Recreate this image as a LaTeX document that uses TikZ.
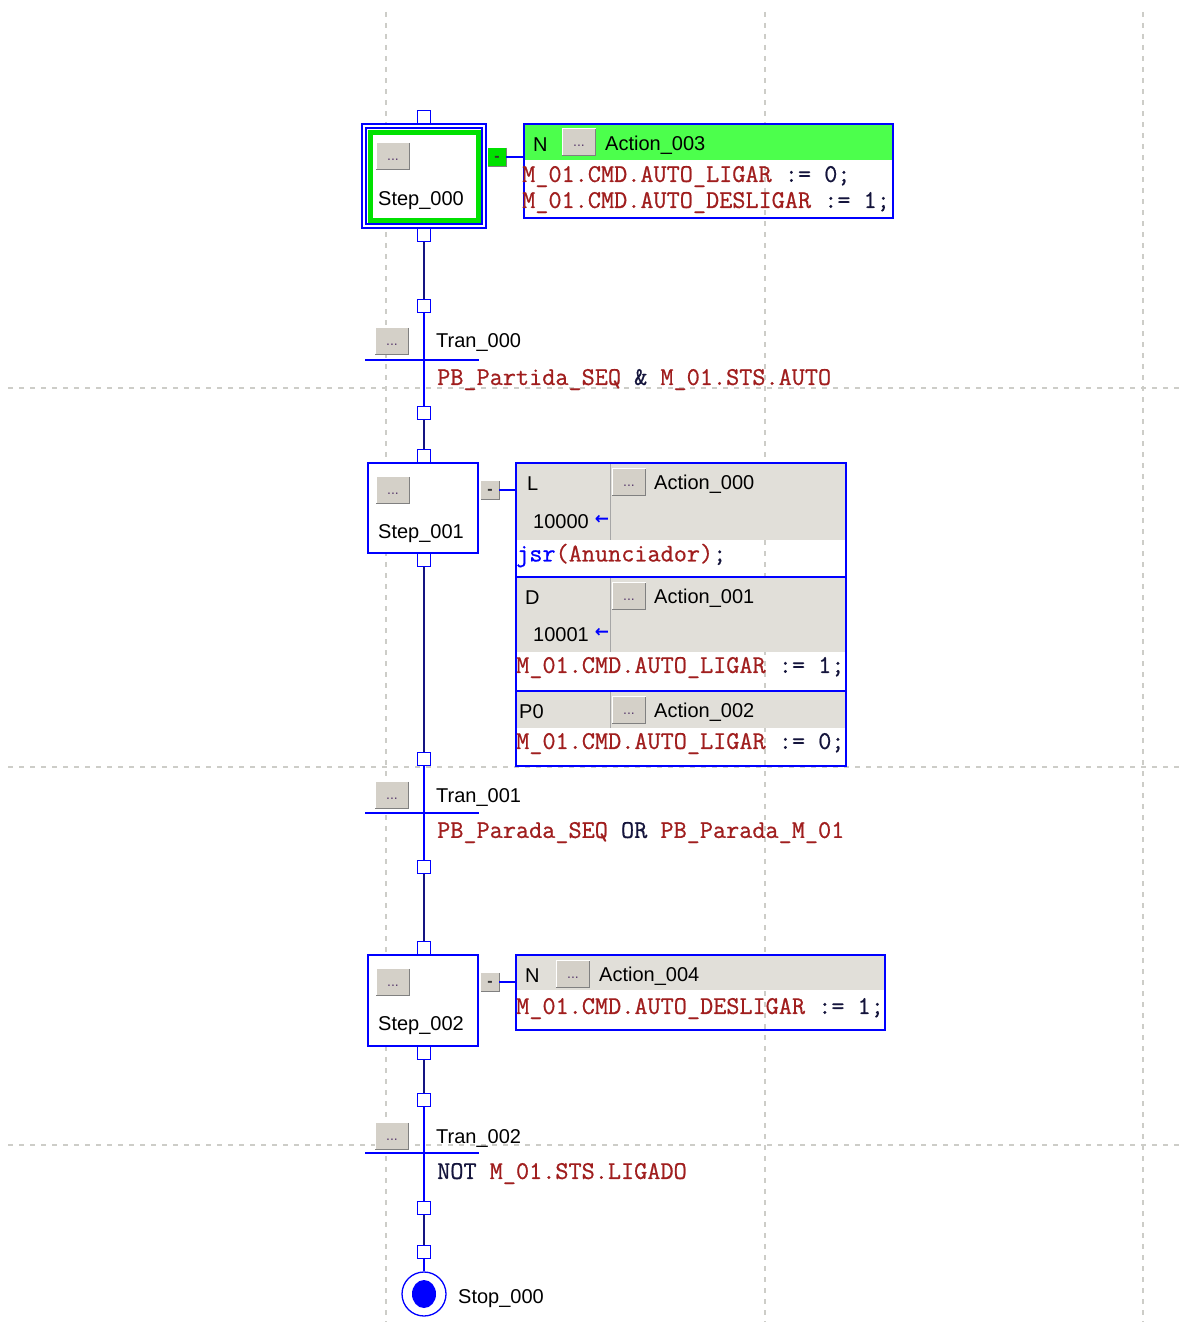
\documentclass[tikz,border=0pt]{standalone}
\usepackage{fontspec}
\setmainfont{Liberation Sans}
\newfontfamily\symfont{DejaVu Sans}
\newfontfamily\codefont[FakeBold=0.7]{Latin Modern Mono}
\usetikzlibrary{calc}
\definecolor{sfcblue}{RGB}{0,0,255}
\definecolor{wirenavy}{RGB}{20,20,130}
\definecolor{stepgreen}{RGB}{0,225,0}
\definecolor{hdrgreen}{RGB}{76,255,76}
\definecolor{panelgray}{RGB}{225,223,217}
\definecolor{btngray}{RGB}{212,208,200}
\definecolor{btndark}{RGB}{128,128,128}
\definecolor{codered}{RGB}{160,30,30}
\definecolor{codedark}{RGB}{20,20,60}
\definecolor{gridgray}{RGB}{205,205,200}
\definecolor{dotcol}{RGB}{90,60,110}
\newcommand{\rd}[1]{\textcolor{codered}{#1}}
\newcommand{\bevel}[1]{%
  \draw[white, line width=1.2pt] (#1.south west) -- (#1.north west) -- (#1.north east);
  \draw[btndark, line width=1.2pt] (#1.north east) -- (#1.south east) -- (#1.south west);}
\newcommand{\dotbtn}[2]{%
  \node[btn] (#1) at (#2) {...};\bevel{#1}}
\begin{document}
\begin{tikzpicture}[x=1pt,y=-1pt,
  gridline/.style={draw=gridgray, line width=1.2pt, dash pattern=on 5pt off 6pt},
  conn/.style={draw=sfcblue, fill=white, line width=1.4pt, minimum width=13pt, minimum height=13pt, inner sep=0pt},
  stepbox/.style={draw=sfcblue, fill=white, line width=1.5pt, minimum width=110pt, minimum height=90pt, inner sep=0pt},
  btn/.style={fill=btngray, minimum width=33pt, minimum height=26pt, inner sep=0pt, font=\fontsize{14}{14}\selectfont, text=dotcol, text depth=0pt, text height=9pt},
  minusbtn/.style={fill=btngray, minimum width=18pt, minimum height=18pt, inner sep=0pt, font=\fontsize{16}{16}\selectfont\bfseries, text=black!80, text depth=0pt, text height=9pt},
  lbl/.style={font=\fontsize{20}{22}\selectfont, inner sep=0pt, text=black, yshift=-2.5pt},
  code/.style={font=\fontsize{25.5}{26}\codefont, inner sep=0pt, text=codedark, anchor=west, yshift=-1.5pt},
  wire/.style={draw=wirenavy, line width=1.4pt},
  sfc/.style={draw=sfcblue, line width=1.5pt},
  actbox/.style={draw=sfcblue, line width=1.5pt, inner sep=0pt},
  arr/.style={font=\fontsize{17}{17}\symfont\bfseries, text=sfcblue, inner sep=0pt},
]
\useasboundingbox (0,0) rectangle (1185,1322);
\fill[white] (0,0) rectangle (1185,1322);
% grid
\foreach \gx in {386,765,1143} {\draw[gridline] (\gx,12) -- (\gx,1322);}
\foreach \gy in {388,767,1145} {\draw[gridline] (8,\gy) -- (1185,\gy);}

% ---------- Step_000 ----------
\node[draw=sfcblue, fill=white, line width=1.3pt, minimum width=124pt, minimum height=104pt, inner sep=0pt] (s0) at (424,176) {};
\draw[sfcblue, line width=1.2pt] (366,128) rectangle (482,224);
\draw[stepgreen, line width=5pt] (370,132) rectangle (478,220);
\node[conn] (s0t) at (424,117) {};
\node[conn] (s0b) at (424,235) {};
\dotbtn{s0btn}{393,156}
\node[lbl] (s0lbl) at (421,198) {Step\_000};
\node[minusbtn, fill=stepgreen] (s0m) at (497,157) {-};\bevel{s0m}
% Action_003
\fill[hdrgreen] (524,124) rectangle (893,160);
\node[actbox, minimum width=369pt, minimum height=94pt] (a3) at (708.5,171) {};
\draw[sfc] (s0m.east) -- (s0m -| a3.west);
\node[lbl, anchor=west] (a3q) at (533,142) {N};
\dotbtn{a3btn}{579,142}
\node[lbl, anchor=west] (a3lbl) at (605,143) {Action\_003};
\node[code] (a3c1) at (522,175) {\rd{M\_01.CMD.AUTO\_LIGAR} := 0;};
\node[code] (a3c2) at (522,201) {\rd{M\_01.CMD.AUTO\_DESLIGAR} := 1;};

% ---------- Tran_000 ----------
\node[conn] (t0a) at (424,306) {};
\node[conn] (t0b) at (424,413) {};
\draw[wire] (s0b) -- (t0a);
\draw[sfc] (t0a) -- (t0b);
\coordinate (t0l) at (365,360);
\coordinate (t0r) at (479,360);
\draw[sfc] (t0l) -- (t0r);
\dotbtn{t0btn}{392,341}
\node[lbl, anchor=west] (t0lbl) at (436,340) {Tran\_000};
\node[code] (t0c) at (437,378) {\rd{PB\_Partida\_SEQ} \& \rd{M\_01.STS.AUTO}};

% ---------- Step_001 ----------
\node[conn] (s1t) at (424,456) {};
\node[conn] (s1b) at (424,560) {};
\node[stepbox] (s1) at (423,508) {};
\draw[wire] (t0b) -- (s1t);
\dotbtn{s1btn}{393,490}
\node[lbl] (s1lbl) at (421,531) {Step\_001};
\node[minusbtn] (s1m) at (490,490) {-};\bevel{s1m}
% action block
\fill[panelgray] (516,463) rectangle (846,540);
\fill[panelgray] (516,577) rectangle (846,652);
\fill[panelgray] (516,691) rectangle (846,728);
\draw[gray!70, line width=1pt] (610,463) -- (610,540);
\draw[gray!70, line width=1pt] (610,577) -- (610,652);
\draw[gray!70, line width=1pt] (610,691) -- (610,728);
\node[actbox, minimum width=330pt, minimum height=303pt] (ab) at (681,614.5) {};
\draw[sfc] (516,577) -- (846,577);
\draw[sfc] (516,691) -- (846,691);
\draw[sfc] (s1m.east) -- (s1m -| ab.west);
% Action_000
\node[lbl, anchor=west] (a0q) at (527,481) {L};
\dotbtn{a0btn}{629,482}
\node[lbl, anchor=west] (a0lbl) at (654,482) {Action\_000};
\node[lbl, anchor=west] (a0t) at (533,519) {10000};
\node[arr] (a0arr) at (602,520) {←};
\node[code] (a0c) at (516,554) {\textcolor{sfcblue}{jsr}\rd{(Anunciador)};};
% Action_001
\node[lbl, anchor=west] (a1q) at (525,595) {D};
\dotbtn{a1btn}{629,596}
\node[lbl, anchor=west] (a1lbl) at (654,596) {Action\_001};
\node[lbl, anchor=west] (a1t) at (533,632) {10001};
\node[arr] (a1arr) at (602,633) {←};
\node[code] (a1c) at (516,666) {\rd{M\_01.CMD.AUTO\_LIGAR} := 1;};
% Action_002
\node[lbl, anchor=west] (a2q) at (519,709) {P0};
\dotbtn{a2btn}{629,710}
\node[lbl, anchor=west] (a2lbl) at (654,710) {Action\_002};
\node[code] (a2c) at (516,742) {\rd{M\_01.CMD.AUTO\_LIGAR} := 0;};

% ---------- Tran_001 ----------
\node[conn] (t1a) at (424,759) {};
\node[conn] (t1b) at (424,867) {};
\draw[wire] (s1b) -- (t1a);
\draw[sfc] (t1a) -- (t1b);
\coordinate (t1l) at (365,813);
\coordinate (t1r) at (479,813);
\draw[sfc] (t1l) -- (t1r);
\dotbtn{t1btn}{392,795}
\node[lbl, anchor=west] (t1lbl) at (436,795) {Tran\_001};
\node[code] (t1c) at (437,831) {\rd{PB\_Parada\_SEQ} OR \rd{PB\_Parada\_M\_01}};

% ---------- Step_002 ----------
\node[conn] (s2t) at (424,948) {};
\node[conn] (s2b) at (424,1053) {};
\node[stepbox, minimum height=91pt] (s2) at (423,1000.5) {};
\draw[wire] (t1b) -- (s2t);
\dotbtn{s2btn}{393,982}
\node[lbl] (s2lbl) at (421,1023) {Step\_002};
\node[minusbtn] (s2m) at (490,982) {-};\bevel{s2m}
\fill[panelgray] (516,955) rectangle (885,990);
\node[actbox, minimum width=369pt, minimum height=75pt] (a4) at (700.5,992.5) {};
\draw[sfc] (s2m.east) -- (s2m -| a4.west);
\node[lbl, anchor=west] (a4q) at (525,973) {N};
\dotbtn{a4btn}{573,974}
\node[lbl, anchor=west] (a4lbl) at (599,974) {Action\_004};
\node[code] (a4c) at (516,1007) {\rd{M\_01.CMD.AUTO\_DESLIGAR} := 1;};

% ---------- Tran_002 ----------
\node[conn] (t2a) at (424,1100) {};
\node[conn] (t2b) at (424,1208) {};
\draw[wire] (s2b) -- (t2a);
\draw[sfc] (t2a) -- (t2b);
\coordinate (t2l) at (365,1153);
\coordinate (t2r) at (479,1153);
\draw[sfc] (t2l) -- (t2r);
\dotbtn{t2btn}{392,1136}
\node[lbl, anchor=west] (t2lbl) at (436,1136) {Tran\_002};
\node[code] (t2c) at (437,1172) {NOT \rd{M\_01.STS.LIGADO}};

% ---------- Stop_000 ----------
\node[conn] (st) at (424,1252) {};
\node[circle, draw=sfcblue, line width=1.3pt, minimum size=44pt, inner sep=0pt] (stop) at (424,1294) {};
\fill[sfcblue] (stop.center) ellipse (12pt and 14pt);
\draw[wire] (t2b) -- (st);
\draw[sfc] (st) -- (stop);
\node[lbl, anchor=west] (stoplbl) at (458,1296) {Stop\_000};
\end{tikzpicture}
\end{document}
